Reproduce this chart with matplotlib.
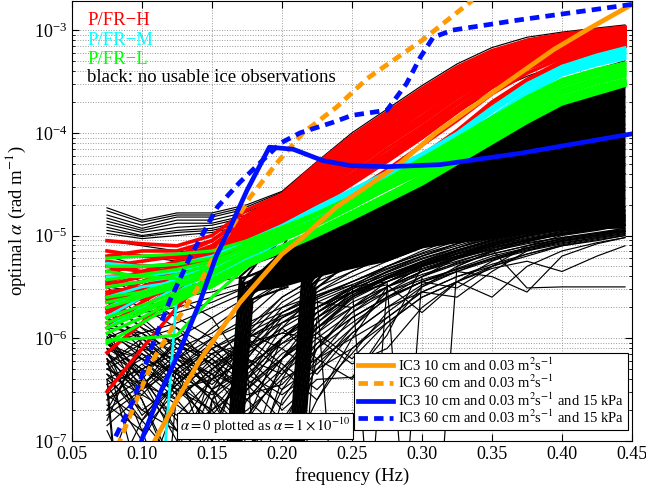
import numpy as np
import matplotlib
matplotlib.use('Agg')
import matplotlib.pyplot as plt

# ---------------- data (log10 of optimal alpha) ----------------
freq = [0.075, 0.1, 0.125, 0.15, 0.175, 0.2, 0.225, 0.25, 0.275, 0.3,
        0.325, 0.35, 0.375, 0.4, 0.425, 0.445]

red_lines = [
    [-5.05, -5.08, -5.1, -5.0, -4.75, -4.6, -4.3, -4.03, -3.8, -3.57, -3.36, -3.2, -3.1, -3.04, -3.0, -2.97],
    [-5.3, -5.25, -5.2, -5.05, -4.8, -4.62, -4.35, -4.08, -3.85, -3.62, -3.4, -3.24, -3.13, -3.06, -3.01, -2.98],
    [-5.45, -5.35, -5.25, -5.1, -4.85, -4.66, -4.4, -4.13, -3.9, -3.67, -3.45, -3.28, -3.16, -3.08, -3.03, -3.0],
    [-5.6, -5.45, -5.3, -5.12, -4.9, -4.7, -4.45, -4.18, -3.95, -3.72, -3.5, -3.32, -3.19, -3.1, -3.05, -3.02],
    [-5.7, -5.5, -5.35, -5.15, -4.95, -4.75, -4.5, -4.25, -4.0, -3.78, -3.55, -3.36, -3.22, -3.12, -3.07, -3.03],
    [-5.8, -5.6, -5.4, -5.2, -5.0, -4.8, -4.55, -4.3, -4.06, -3.84, -3.6, -3.4, -3.25, -3.15, -3.09, -3.05],
    [-5.35, -5.3, -5.28, -5.2, -5.05, -4.85, -4.6, -4.36, -4.12, -3.9, -3.66, -3.45, -3.3, -3.18, -3.11, -3.07],
    [-5.5, -5.45, -5.35, -5.25, -5.1, -4.9, -4.65, -4.42, -4.2, -3.97, -3.72, -3.5, -3.34, -3.21, -3.14, -3.1],
    [-5.9, -5.65, -5.45, -5.28, -5.15, -4.95, -4.72, -4.5, -4.28, -4.05, -3.8, -3.56, -3.38, -3.24, -3.17, -3.13],
    [-5.75, -5.6, -5.42, -5.3, -5.18, -4.98, -4.78, -4.58, -4.36, -4.12, -3.88, -3.62, -3.42, -3.27, -3.19, -3.15],
    [-5.25, -5.3, -5.3, -5.15, -4.9, -4.68, -4.42, -4.15, -3.92, -3.7, -3.48, -3.3, -3.18, -3.09, -3.04, -3.01],
    [-5.55, -5.5, -5.38, -5.22, -5.0, -4.78, -4.52, -4.27, -4.03, -3.8, -3.57, -3.38, -3.23, -3.13, -3.08, -3.04],
    [-5.65, -5.55, -5.4, -5.25, -5.05, -4.83, -4.58, -4.33, -4.09, -3.86, -3.62, -3.42, -3.27, -3.16, -3.1, -3.06],
    [-5.4, -5.38, -5.32, -5.18, -4.97, -4.73, -4.47, -4.22, -3.98, -3.75, -3.52, -3.34, -3.2, -3.11, -3.06, -3.02],
    [-5.15, -5.2, -5.22, -5.1, -4.88, -4.65, -4.38, -4.11, -3.88, -3.65, -3.43, -3.27, -3.15, -3.07, -3.02, -2.99],
    [-5.85, -5.7, -5.5, -5.32, -5.2, -5.0, -4.8, -4.6, -4.42, -4.22, -3.98, -3.7, -3.48, -3.3, -3.2, -3.15],
    [-6.14, -5.85, -5.55, -5.3, -5.1, -4.9, -4.66, -4.44, -4.22, -4.0, -3.76, -3.53, -3.36, -3.23, -3.15, -3.11],
    [-6.52, -6.1, -5.7, -5.35, -5.15, -4.93, -4.7, -4.48, -4.25, -4.02, -3.78, -3.55, -3.37, -3.24, -3.16, -3.12],
    [-5.2, -5.15, -5.15, -5.05, -4.82, -4.63, -4.33, -4.06, -3.83, -3.6, -3.38, -3.22, -3.12, -3.05, -3.01, -2.98],
    [-5.48, -5.4, -5.3, -5.15, -4.92, -4.7, -4.47, -4.2, -3.97, -3.74, -3.52, -3.33, -3.2, -3.11, -3.06, -3.03],
    [-5.62, -5.52, -5.38, -5.2, -5.02, -4.82, -4.56, -4.32, -4.1, -3.88, -3.64, -3.43, -3.28, -3.17, -3.11, -3.07],
    [-5.72, -5.58, -5.44, -5.28, -5.12, -4.92, -4.7, -4.47, -4.25, -4.02, -3.78, -3.54, -3.37, -3.23, -3.16, -3.12],
    [-5.3, -5.35, -5.33, -5.22, -5.08, -4.88, -4.63, -4.4, -4.16, -3.94, -3.7, -3.48, -3.32, -3.2, -3.13, -3.09],
    [-5.58, -5.62, -5.5, -5.34, -5.22, -5.02, -4.83, -4.64, -4.45, -4.26, -4.02, -3.74, -3.5, -3.32, -3.22, -3.16],
]

cyan_lines = [
    [-5.27, -5.3, -5.28, -5.2, -5.05, -4.9, -4.72, -4.55, -4.38, -4.2, -4.0, -3.75, -3.52, -3.35, -3.24, -3.17],
    [-5.79, -5.6, -5.45, -5.35, -5.2, -5.0, -4.8, -4.62, -4.45, -4.28, -4.05, -3.8, -3.57, -3.38, -3.27, -3.2],
    [-5.5, -5.45, -5.4, -5.3, -5.12, -4.95, -4.76, -4.58, -4.42, -4.25, -4.03, -3.78, -3.55, -3.37, -3.26, -3.22],
    [-10, -10, -5.55, -5.35, -5.15, -4.98, -4.8, -4.62, -4.46, -4.3, -4.08, -3.84, -3.6, -3.4, -3.3, -3.25],
    [-5.6, -5.5, -5.45, -5.4, -5.25, -5.05, -4.85, -4.66, -4.5, -4.33, -4.12, -3.88, -3.64, -3.44, -3.34, -3.28],
    [-5.4, -5.4, -5.35, -5.28, -5.1, -4.93, -4.74, -4.56, -4.4, -4.22, -4.02, -3.77, -3.54, -3.36, -3.25, -3.19],
    [-5.7, -5.55, -5.42, -5.32, -5.17, -4.98, -4.79, -4.6, -4.43, -4.26, -4.04, -3.79, -3.56, -3.38, -3.28, -3.23],
    [-5.9, -5.7, -5.5, -5.38, -5.22, -5.02, -4.82, -4.64, -4.48, -4.32, -4.1, -3.86, -3.62, -3.42, -3.32, -3.27],
]

green_lines = [
    [-5.22, -5.2, -5.18, -5.15, -5.05, -4.92, -4.78, -4.62, -4.45, -4.25, -4.05, -3.85, -3.65, -3.48, -3.38, -3.32],
    [-5.43, -5.38, -5.33, -5.25, -5.12, -4.98, -4.84, -4.68, -4.5, -4.32, -4.12, -3.92, -3.72, -3.55, -3.44, -3.38],
    [-5.7, -5.6, -5.5, -5.38, -5.2, -5.05, -4.9, -4.73, -4.55, -4.37, -4.18, -3.98, -3.78, -3.6, -3.5, -3.43],
    [-5.8, -5.68, -5.55, -5.42, -5.25, -5.1, -4.94, -4.77, -4.6, -4.42, -4.23, -4.03, -3.83, -3.65, -3.55, -3.48],
    [-5.95, -5.8, -5.62, -5.45, -5.28, -5.12, -4.97, -4.8, -4.63, -4.46, -4.27, -4.07, -3.87, -3.7, -3.59, -3.52],
    [-6.02, -6.0, -5.97, -5.6, -5.3, -5.15, -5.0, -4.84, -4.67, -4.5, -4.3, -4.1, -3.9, -3.72, -3.62, -3.54],
    [-5.6, -5.55, -5.45, -5.3, -5.15, -5.0, -4.86, -4.7, -4.52, -4.34, -4.14, -3.95, -3.75, -3.58, -3.47, -3.4],
    [-5.35, -5.4, -5.42, -5.35, -5.18, -5.03, -4.88, -4.72, -4.55, -4.39, -4.2, -4.0, -3.8, -3.62, -3.52, -3.45],
    [-5.9, -5.75, -5.6, -5.5, -5.3, -5.12, -4.95, -4.78, -4.6, -4.44, -4.24, -4.05, -3.85, -3.68, -3.57, -3.5],
    [-5.5, -5.45, -5.38, -5.28, -5.1, -4.95, -4.8, -4.65, -4.48, -4.3, -4.1, -3.9, -3.7, -3.52, -3.42, -3.36],
    [-5.3, -5.3, -5.28, -5.22, -5.08, -4.94, -4.8, -4.64, -4.47, -4.28, -4.08, -3.88, -3.68, -3.5, -3.4, -3.34],
    [-5.65, -5.58, -5.48, -5.35, -5.18, -5.02, -4.87, -4.71, -4.53, -4.35, -4.16, -3.96, -3.76, -3.59, -3.48, -3.42],
    [-5.85, -5.72, -5.58, -5.44, -5.27, -5.11, -4.95, -4.79, -4.62, -4.44, -4.25, -4.05, -3.86, -3.69, -3.58, -3.51],
    [-6.05, -5.85, -5.65, -5.48, -5.3, -5.14, -4.98, -4.82, -4.65, -4.48, -4.29, -4.09, -3.89, -3.71, -3.61, -3.53],
]

black_lines = [
    [-4.73, -4.85, -4.78, -4.78, -4.7, -4.57, -4.28, -4.0, -3.77, -3.54, -3.33, -3.17, -3.07, -3.02, -2.98, -2.95],
    [-4.76, -4.87, -4.8, -4.8, -4.72, -4.58, -4.3, -4.02, -3.8, -3.57, -3.36, -3.2, -3.09, -3.03, -2.99, -2.96],
    [-4.8, -4.9, -4.82, -4.82, -4.74, -4.6, -4.32, -4.05, -3.82, -3.6, -3.38, -3.22, -3.1, -3.05, -3.0, -2.97],
    [-4.83, -4.93, -4.85, -4.85, -4.77, -4.63, -4.36, -4.08, -3.85, -3.63, -3.41, -3.25, -3.12, -3.06, -3.01, -2.98],
    [-4.86, -4.95, -4.88, -4.88, -4.8, -4.66, -4.4, -4.12, -3.88, -3.66, -3.44, -3.27, -3.14, -3.07, -3.02, -2.99],
    [-4.89, -4.97, -4.92, -4.9, -4.82, -4.68, -4.42, -4.16, -3.92, -3.7, -3.47, -3.29, -3.16, -3.08, -3.03, -3.0],
    [-4.92, -5.0, -4.95, -4.93, -4.85, -4.7, -4.45, -4.2, -3.96, -3.73, -3.5, -3.3, -3.17, -3.09, -3.04, -3.01],
    [-4.95, -5.01, -4.97, -4.95, -4.87, -4.72, -4.47, -4.22, -3.98, -3.75, -3.52, -3.33, -3.19, -3.1, -3.05, -3.02],
    [-4.98, -5.03, -5.0, -4.97, -4.9, -4.75, -4.5, -4.25, -4.0, -3.78, -3.55, -3.35, -3.2, -3.11, -3.06, -3.03],
    [-5.15, -5.2, -5.25, -5.2, -5.0, -4.8, -4.6, -4.4, -4.2, -4.0, -3.8, -3.6, -3.45, -3.33, -3.26, -3.22],
    [-5.6, -5.5, -5.4, -5.3, -5.12, -4.95, -4.78, -4.6, -4.42, -4.24, -4.04, -3.84, -3.64, -3.48, -3.38, -3.3],
    [-5.05, -5.1, -5.15, -5.2, -5.25, -5.1, -4.95, -4.8, -4.62, -4.45, -4.28, -4.1, -3.92, -3.75, -3.63, -3.56],
    [-5.2, -5.3, -5.35, -5.35, -5.3, -5.18, -5.02, -4.88, -4.7, -4.52, -4.35, -4.17, -4.0, -3.85, -3.72, -3.65],
    [-5.5, -5.55, -5.5, -5.45, -5.4, -5.25, -5.1, -4.95, -4.78, -4.6, -4.43, -4.25, -4.08, -3.93, -3.82, -3.75],
    [-5.7, -5.75, -5.7, -5.6, -5.5, -5.3, -5.15, -5.0, -4.85, -4.68, -4.5, -4.32, -4.15, -4.0, -3.9, -3.84],
    [-5.9, -5.95, -5.85, -5.7, -5.55, -5.35, -5.2, -5.05, -4.9, -4.75, -4.58, -4.4, -4.24, -4.1, -3.98, -3.92],
    [-6.1, -6.2, -6.0, -5.8, -5.6, -5.4, -5.25, -5.1, -4.95, -4.8, -4.65, -4.48, -4.32, -4.18, -4.06, -4.0],
    [-6.3, -6.5, -6.2, -5.9, -5.65, -5.45, -5.3, -5.15, -5.0, -4.86, -4.72, -4.56, -4.4, -4.26, -4.15, -4.08],
    [-5.4, -5.6, -5.8, -6.0, -5.8, -5.5, -5.35, -5.2, -5.05, -4.92, -4.78, -4.63, -4.48, -4.34, -4.23, -4.16],
    [-5.8, -6.1, -6.4, -6.2, -5.9, -5.6, -5.4, -5.25, -5.1, -4.97, -4.84, -4.7, -4.56, -4.42, -4.31, -4.24],
    [-6.0, -6.6, -7.3, -6.5, -6.0, -5.65, -5.45, -5.3, -5.15, -5.02, -4.9, -4.77, -4.63, -4.5, -4.4, -4.32],
    [-6.2, -7.5, -6.6, -6.3, -6.1, -5.7, -5.5, -5.35, -5.2, -5.07, -4.95, -4.83, -4.7, -4.58, -4.48, -4.4],
    [-6.4, -10, -6.5, -6.4, -6.2, -5.75, -5.55, -5.4, -5.25, -5.12, -5.0, -4.88, -4.77, -4.66, -4.56, -4.48],
    [-6.5, -10, -10, -6.6, -6.0, -5.8, -5.6, -5.45, -5.3, -5.17, -5.05, -4.93, -4.83, -4.73, -4.64, -4.56],
    [-6.1, -6.3, -6.5, -6.7, -6.3, -5.85, -5.62, -5.48, -5.33, -5.2, -5.08, -4.98, -4.88, -4.79, -4.71, -4.64],
    [-5.6, -5.9, -6.2, -6.5, -6.8, -6.0, -5.7, -5.5, -5.36, -5.23, -5.12, -5.02, -4.93, -4.85, -4.78, -4.72],
    [-5.3, -5.45, -5.6, -5.8, -6.3, -10, -5.8, -5.52, -5.38, -5.26, -5.15, -5.06, -4.98, -4.91, -4.85, -4.8],
    [-6.35, -6.8, -7.2, -7.6, -6.5, -6.0, -5.75, -5.55, -5.42, -5.3, -5.2, -5.1, -5.03, -4.97, -4.92, -4.88],
    [-5.95, -6.4, -6.8, -10, -6.8, -6.3, -5.9, -5.6, -5.45, -5.33, -5.22, -5.14, -5.07, -5.02, -4.98, -4.95],
    [-5.45, -5.5, -5.6, -5.55, -5.45, -5.3, -5.12, -4.96, -4.8, -4.63, -4.47, -4.3, -4.12, -3.97, -3.86, -3.8],
    [-5.65, -5.8, -5.75, -5.65, -5.5, -5.32, -5.17, -5.02, -4.87, -4.72, -4.57, -4.42, -4.27, -4.14, -4.03, -3.96],
    [-6.05, -6.3, -6.1, -5.95, -5.7, -5.45, -5.28, -5.12, -4.98, -4.85, -4.7, -4.56, -4.42, -4.3, -4.2, -4.12],
    [-6.25, -6.7, -6.9, -6.4, -5.95, -5.6, -5.4, -5.25, -5.1, -4.97, -4.85, -4.72, -4.6, -4.48, -4.38, -4.3],
    [-5.55, -5.7, -5.9, -6.1, -6.4, -5.9, -5.55, -5.35, -5.2, -5.06, -4.93, -4.8, -4.68, -4.56, -4.46, -4.4],
    [-5.85, -6.0, -6.3, -6.6, -7.2, -6.2, -5.75, -5.5, -5.3, -5.15, -5.02, -4.9, -4.78, -4.68, -4.6, -4.52],
    [-6.6, -6.3, -6.15, -6.5, -7.4, -6.4, -5.85, -5.55, -5.35, -5.2, -5.08, -4.98, -4.9, -4.83, -4.77, -4.72],
    [-6.8, -6.0, -6.3, -7.2, -6.6, -6.2, -5.95, -5.6, -5.4, -5.25, -5.12, -5.0, -4.92, -4.86, -4.8, -4.75],
    [-7.3, -6.4, -6.0, -6.2, -6.6, -6.9, -6.1, -5.7, -5.45, -5.28, -5.15, -5.04, -4.95, -4.88, -4.83, -4.78],
    [-6.15, -6.6, -7.4, -6.3, -6.05, -6.3, -6.6, -6.0, -5.5, -5.3, -5.18, -5.07, -4.98, -4.9, -4.86, -4.82],
    [-6.45, -7.0, -6.4, -6.05, -6.25, -6.7, -6.4, -6.38, -5.97, -5.3, -5.2, -5.1, -5.0, -4.93, -4.88, -4.85],
    [-5.75, -6.0, -6.25, -6.6, -6.9, -7.5, -6.2, -5.8, -5.6, -5.45, -5.51, -5.3, -5.1, -5.0, -4.95, -4.9],
    [-6.3, -6.45, -6.6, -6.3, -6.0, -5.85, -5.7, -5.55, -5.42, -5.3, -5.2, -5.14, -5.51, -5.5, -5.5, -5.5],
    [-6.05, -6.2, -6.35, -6.1, -5.9, -5.75, -5.6, -10, -5.5, -5.3, -5.15, -5.05, -4.97, -4.9, -4.84, -4.8],
    [-6.2, -6.5, -6.3, -6.0, -5.85, -5.7, -5.58, -5.48, -10, -5.4, -5.22, -5.1, -5.0, -4.93, -4.87, -4.83],
    [-6.4, -6.7, -6.45, -6.15, -5.95, -5.78, -5.65, -5.5, -5.45, -10, -5.3, -5.15, -5.04, -4.96, -4.9, -4.85],
    [-5.95, -6.1, -6.2, -6.35, -6.5, -6.2, -5.9, -5.65, -5.5, -5.38, -5.27, -5.18, -5.1, -5.03, -4.98, -4.93],
    [-6.7, -6.1, -6.4, -6.9, -6.2, -5.8, -5.6, -5.45, -5.32, -5.2, -5.1, -5.0, -4.92, -4.86, -4.81, -4.76],
    [-6.9, -7.6, -6.3, -6.1, -6.4, -6.0, -5.7, -5.5, -5.35, -5.22, -5.12, -5.03, -4.95, -4.89, -4.84, -4.8],
    [-6.0, -6.35, -6.9, -7.6, -6.4, -6.1, -5.8, -5.58, -5.4, -5.26, -5.14, -5.04, -4.96, -4.9, -4.85, -4.81],
    [-6.55, -6.25, -6.55, -6.2, -6.45, -6.8, -6.3, -5.9, -5.55, -5.35, -5.2, -5.08, -4.99, -4.92, -4.87, -4.83],
    [-5.5, -5.8, -6.1, -6.4, -6.6, -6.3, -6.0, -5.75, -5.55, -5.4, -5.28, -5.18, -5.1, -5.04, -4.99, -4.95],
    [-6.25, -6.0, -5.9, -6.3, -6.55, -6.45, -6.1, -5.85, -5.62, -5.45, -5.32, -5.2, -5.12, -5.05, -5.0, -4.96],
    [-7.5, -6.8, -6.3, -6.05, -6.2, -6.5, -6.25, -5.95, -5.7, -5.48, -5.35, -5.24, -5.15, -5.08, -5.02, -4.98],
    [-6.1, -6.9, -7.8, -6.6, -6.3, -6.0, -5.75, -5.55, -5.4, -5.28, -5.18, -5.1, -5.02, -4.96, -4.92, -4.89],
    [-5.9, -6.2, -6.5, -6.8, -7.8, -6.6, -6.1, -5.75, -5.5, -5.35, -5.22, -5.12, -5.04, -4.98, -4.93, -4.9],
    [-6.6, -6.4, -6.65, -6.9, -6.7, -6.4, -6.2, -6.0, -5.8, -5.55, -5.4, -5.3, -5.2, -5.1, -5.04, -5.0],
    [-6.35, -6.55, -6.2, -6.0, -6.35, -6.55, -6.3, -6.1, -5.85, -5.6, -5.45, -5.6, -5.3, -5.15, -5.07, -5.02],
    [-6.05, -6.4, -7.0, -6.5, -6.25, -6.05, -5.9, -5.7, -5.55, -5.43, -5.33, -5.22, -5.13, -5.06, -5.01, -4.97],
    [-6.45, -6.3, -6.6, -7.0, -6.1, -5.75, -5.58, -5.45, -5.3, -5.18, -5.08, -4.99, -4.91, -4.85, -4.8, -4.76],
    [-6.15, -6.45, -6.15, -6.35, -6.75, -6.35, -5.9, -5.62, -5.45, -5.3, -5.18, -5.08, -5.0, -4.94, -4.89, -4.85],
    [-6.75, -6.5, -6.0, -6.25, -6.0, -6.25, -6.5, -6.15, -5.75, -5.5, -5.35, -5.22, -5.12, -5.05, -5.0, -4.96],
    [-6.2, -6.75, -6.45, -6.7, -7.2, -6.5, -6.05, -5.8, -5.6, -5.45, -5.33, -5.23, -5.14, -5.07, -5.02, -4.98],
    [-5.7, -6.05, -6.4, -6.9, -6.15, -5.9, -6.2, -6.4, -5.9, -5.5, -5.3, -5.16, -5.06, -4.98, -4.93, -4.9],
    [-6.0, -5.85, -6.1, -6.15, -6.05, -5.95, -6.0, -6.25, -6.1, -5.7, -5.45, -5.3, -5.18, -5.09, -5.03, -4.99],
    [-6.5, -6.15, -6.45, -6.1, -5.95, -6.1, -6.35, -5.95, -5.7, -5.55, -5.6, -5.35, -5.15, -5.05, -5.0, -4.96],
    [-5.65, -5.9, -6.05, -6.25, -6.1, -5.85, -5.7, -5.55, -5.48, -5.75, -5.45, -5.25, -5.12, -5.03, -4.98, -4.94],
    [-6.85, -6.55, -6.75, -6.4, -6.2, -6.35, -6.05, -5.8, -5.6, -5.45, -5.35, -5.4, -5.55, -5.2, -5.08, -5.02],
    [-6.3, -6.1, -6.0, -6.5, -6.9, -7.3, -6.6, -6.1, -5.8, -5.55, -5.4, -5.28, -5.18, -5.1, -5.05, -5.0],
    [-5.8, -5.95, -6.15, -6.4, -6.0, -5.8, -5.65, -5.7, -5.5, -5.35, -5.25, -5.15, -5.08, -5.02, -4.97, -4.93],
    [-6.65, -6.9, -6.5, -6.25, -6.5, -6.15, -5.95, -6.2, -5.85, -5.6, -5.45, -5.32, -5.25, -5.35, -5.2, -5.1],
    [-5.95, -6.15, -6.35, -6.55, -6.3, -6.0, -5.75, -5.55, -5.4, -5.27, -5.16, -5.07, -5.0, -4.94, -4.9, -4.86],
    [-6.05, -5.95, -6.25, -6.45, -6.15, -5.9, -5.7, -5.52, -5.38, -5.25, -5.14, -5.05, -4.97, -4.91, -4.86, -4.82],
    [-6.15, -6.35, -6.05, -6.25, -6.6, -6.2, -5.85, -5.6, -5.42, -5.29, -5.18, -5.09, -5.01, -4.95, -4.9, -4.87],
    [-6.25, -6.05, -6.35, -6.75, -6.35, -6.05, -5.8, -5.58, -5.42, -5.3, -5.2, -5.11, -5.04, -4.98, -4.93, -4.9],
    [-6.4, -6.2, -6.55, -6.35, -6.1, -5.95, -5.75, -5.56, -5.41, -5.28, -5.17, -5.08, -5.0, -4.94, -4.89, -4.85],
    [-6.55, -6.8, -6.45, -6.15, -6.4, -6.65, -6.2, -5.9, -5.6, -5.4, -5.26, -5.15, -5.06, -4.99, -4.94, -4.9],
    [-6.7, -6.45, -6.2, -6.5, -6.3, -6.0, -5.8, -5.6, -5.45, -5.32, -5.21, -5.12, -5.05, -4.99, -4.94, -4.91],
    [-5.98, -6.5, -6.9, -6.7, -6.45, -6.2, -5.95, -5.7, -5.5, -5.35, -5.23, -5.13, -5.05, -4.99, -4.94, -4.9],
]

# lines whose alpha = 0 (plotted as 1e-10) at one frequency, then jump up
freq_step = 0.025
drop1_start = [0.145, 0.146, 0.147, 0.148, 0.149, 0.150, 0.151, 0.152, 0.153, 0.154]
drop1_next = [-5.4, -5.42, -5.45, -5.47, -5.5, -5.52, -5.55, -5.57, -5.6, -5.62]
drop1_after = [-5.1, -5.3, -5.0, -5.4, -5.2, -5.45, -5.15, -5.35, -5.05, -5.5]
drop2_start = [0.190, 0.191, 0.192, 0.193, 0.194, 0.195, 0.196, 0.197, 0.198, 0.199]
drop2_next = [-5.3, -5.32, -5.35, -5.37, -5.4, -5.42, -5.45, -5.47, -5.5, -5.52]
drop2_after = [-4.95, -5.1, -4.9, -5.2, -5.05, -5.3, -5.0, -5.15, -4.92, -5.25]

# densely overplotted core of the black (no-ice) bundle
core_freq = [0.175, 0.2, 0.225, 0.25, 0.275, 0.3, 0.325, 0.35, 0.375, 0.4, 0.425, 0.445]
core_upper = [-5.45, -5.14, -4.99, -4.83, -4.66, -4.48, -4.28, -4.08, -3.88, -3.7, -3.6, -3.52]
core_lower = [-5.55, -5.5, -5.4, -5.32, -5.25, -5.12, -5.07, -5.03, -4.98, -4.95, -4.93, -4.93]

# model curves
ic3_10_f = [0.109, 0.125, 0.141, 0.17, 0.2, 0.213, 0.239, 0.263, 0.284, 0.31, 0.346, 0.37, 0.394, 0.42, 0.45]
ic3_10_v = [-7.0, -6.6, -6.22, -5.65, -5.18, -5.04, -4.72, -4.5, -4.3, -4.0, -3.65, -3.42, -3.19, -2.98, -2.75]
ic3_60_f = [0.078, 0.082, 0.094, 0.108, 0.122, 0.139, 0.151, 0.177, 0.196, 0.215, 0.239, 0.261, 0.3, 0.336]
ic3_60_v = [-7.2, -7.07, -6.67, -6.21, -5.89, -5.53, -5.21, -4.63, -4.30, -4.0, -3.75, -3.47, -3.10, -2.71]
ic3_10p_f = [0.098, 0.1, 0.113, 0.127, 0.141, 0.153, 0.163, 0.175, 0.191, 0.208, 0.229, 0.249, 0.275, 0.313, 0.37, 0.45]
ic3_10p_v = [-7.1, -6.98, -6.53, -6.12, -5.66, -5.2, -4.92, -4.56, -4.14, -4.16, -4.27, -4.32, -4.33, -4.31, -4.2, -4.01]
ic3_60p_f = [0.078, 0.081, 0.094, 0.106, 0.12, 0.134, 0.154, 0.17, 0.199, 0.213, 0.236, 0.25, 0.275, 0.289, 0.299, 0.308, 0.322, 0.37, 0.45]
ic3_60p_v = [-7.1, -6.96, -6.6, -6.12, -5.63, -5.22, -4.72, -4.48, -4.10, -4.0, -3.9, -3.83, -3.78, -3.52, -3.26, -3.07, -3.0, -2.9, -2.75]

legend_labels = [r'IC3 10 cm and 0.03 m$^2$s$^{-1}$',
                 r'IC3 60 cm and 0.03 m$^2$s$^{-1}$',
                 r'IC3 10 cm and 0.03 m$^2$s$^{-1}$ and 15 kPa',
                 r'IC3 60 cm and 0.03 m$^2$s$^{-1}$ and 15 kPa']
xticks = [0.05, 0.10, 0.15, 0.20, 0.25, 0.30, 0.35, 0.40, 0.45]

# ---------------- plot ----------------
plt.rcParams['font.family'] = ['Liberation Serif', 'DejaVu Serif']
plt.rcParams['mathtext.fontset'] = 'stix'

RED = '#ff0000'
CYAN = '#00ffff'
GREEN = '#00ff00'
ORANGE = '#ff9a00'
BLUE = '#0010ff'


def P(v):
    return 10.0 ** np.asarray(v, dtype=float)


fig = plt.figure(figsize=(6.46, 4.88), dpi=100)
ax = fig.add_axes([72 / 646, 1 - 441 / 488, 560 / 646, 440 / 488])

ax.fill_between(core_freq, P(core_lower), P(core_upper), color='k', lw=0, zorder=2)
for row in black_lines:
    ax.plot(freq, P(row), color='k', lw=0.85, zorder=2)
for f0, a, b in zip(drop1_start, drop1_next, drop1_after):
    ax.plot([f0, f0 + freq_step, f0 + 2 * freq_step], P([-10, a, b]), color='k', lw=1.5, zorder=2)
for f0, a, b in zip(drop2_start, drop2_next, drop2_after):
    ax.plot([f0, f0 + freq_step, f0 + 2 * freq_step], P([-10, a, b]), color='k', lw=1.5, zorder=2)
for row in red_lines:
    ax.plot(freq, P(row), color=RED, lw=2.6, zorder=3)
for row in cyan_lines:
    ax.plot(freq, P(row), color=CYAN, lw=2.0, zorder=4)
for row in green_lines:
    ax.plot(freq, P(row), color=GREEN, lw=2.3, zorder=5)

lw_m = 3.4
h1, = ax.plot(ic3_10_f, P(ic3_10_v), color=ORANGE, lw=lw_m, zorder=6)
h2, = ax.plot(ic3_60_f, P(ic3_60_v), color=ORANGE, lw=lw_m, zorder=6,
              dashes=(2.0, 1.3))
h3, = ax.plot(ic3_10p_f, P(ic3_10p_v), color=BLUE, lw=lw_m, zorder=7)
h4, = ax.plot(ic3_60p_f, P(ic3_60p_v), color=BLUE, lw=lw_m, zorder=7,
              dashes=(2.0, 1.3))

ax.set_yscale('log')
ax.set_xlim(0.05, 0.45)
ax.set_ylim(1e-7, 10 ** -2.717)
ax.set_xticks(xticks)
ax.set_xticklabels(['%.2f' % t for t in xticks])
ax.set_axisbelow(True)
ax.grid(True, which='major', axis='both', ls=':', color='0.6', lw=0.7)
ax.grid(True, which='minor', axis='y', ls=':', color='0.6', lw=0.7)
ax.tick_params(which='both', direction='in', top=True, right=True, labelsize=13)
ax.tick_params(which='major', length=5)
ax.tick_params(which='minor', length=2.5)
for s in ax.spines.values():
    s.set_linewidth(0.8)

ax.set_xlabel('frequency (Hz)', fontsize=13.5, labelpad=3)
ax.set_ylabel(r'optimal $\alpha$ (rad m$^{-1}$)', fontsize=13.5, labelpad=4)

ax.text(0.027, 0.945, 'P/FR\u2212H', color=RED, fontsize=13.5, transform=ax.transAxes, zorder=10)
ax.text(0.027, 0.900, 'P/FR\u2212M', color=CYAN, fontsize=13.5, transform=ax.transAxes, zorder=10)
ax.text(0.027, 0.857, 'P/FR\u2212L', color=GREEN, fontsize=13.5, transform=ax.transAxes, zorder=10)
ax.text(0.027, 0.816, 'black: no usable ice observations', color='k', fontsize=13.5,
        transform=ax.transAxes, zorder=10)

ax.text(0.193, 0.012, r'$\alpha = 0$ plotted as $\alpha = 1\times10^{-10}$', fontsize=10.5,
        transform=ax.transAxes, ha='left', va='bottom', zorder=20,
        bbox=dict(boxstyle='square,pad=0.2', fc='white', ec='k', lw=0.8))

leg = ax.legend([h1, h2, h3, h4], legend_labels, loc='lower right',
                bbox_to_anchor=(0.993, 0.025), fontsize=10.5, frameon=True,
                fancybox=False, edgecolor='k', framealpha=1, handlelength=2.4,
                borderpad=0.25, labelspacing=0.02, handletextpad=0.4, borderaxespad=0)
leg.get_frame().set_linewidth(0.8)
leg.set_zorder(20)

fig.savefig('out.png', dpi=100)
